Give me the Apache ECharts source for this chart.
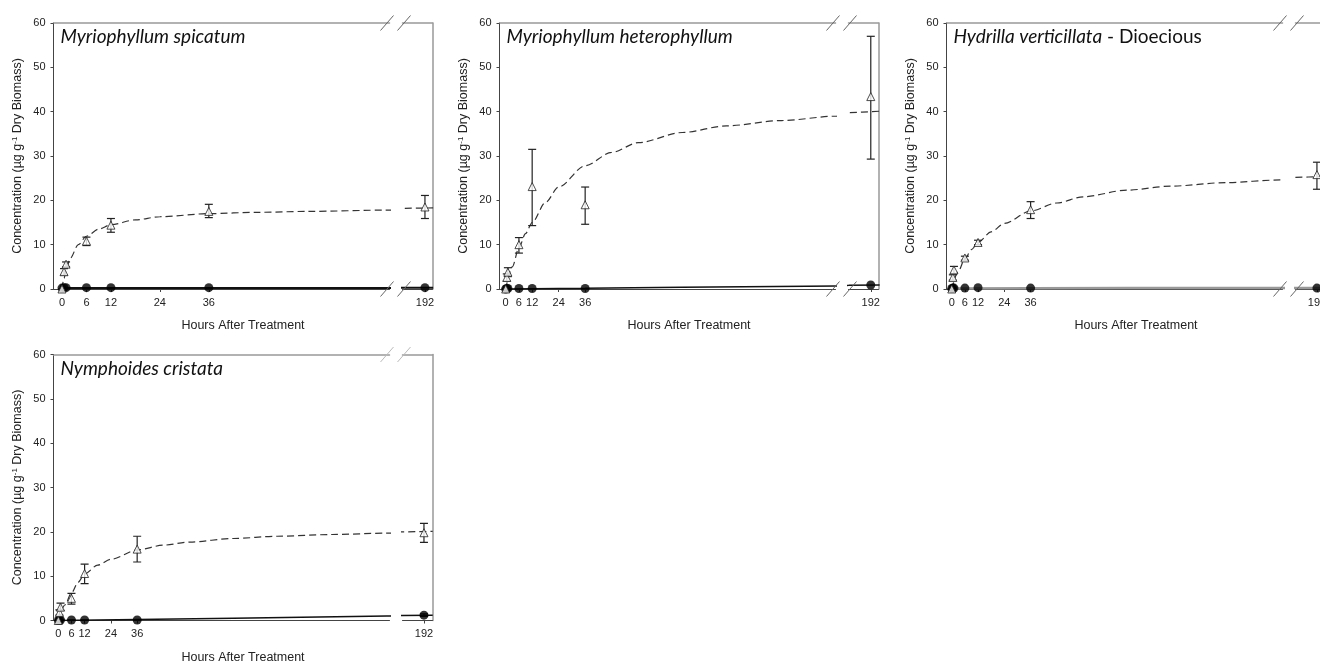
<!DOCTYPE html>
<html>
<head>
<meta charset="utf-8">
<script src="https://cdn.jsdelivr.net/npm/echarts@6/dist/echarts.min.js"></script>
<style>
  html, body { margin: 0; padding: 0; background: #fff; }
  #chart { width: 1320px; height: 664px; }
</style>
</head>
<body>
<div id="chart"></div>
<script>
// sampling times (hours after treatment)
const sampleHours = [0, 0.5, 1, 6, 12, 36, 192];
const leftTickHours = [0, 6, 12, 24, 36];
const rightTickHours = [192];

const fitHours = [0, 3, 6, 9, 12, 18, 24, 36, 48, 60, 80, 100, 125, 150, 182, 196];
const dotFitHours = [0, 36, 80, 150, 182, 196];

// Myriophyllum spicatum
const spicatumTri = [0, 3.9, 5.6, 10.8, 14.4, 17.5, 18.5];
const spicatumTriLow = [0, 3.1, 5.0, 9.8, 12.8, 16.1, 15.9];
const spicatumTriHigh = [0, 4.6, 6.1, 11.7, 15.9, 19.1, 21.1];
const spicatumDot = [0.2, 0.3, 0.3, 0.3, 0.3, 0.3, 0.3];
const spicatumFitHours = [0, 0.5, 1, 2, 4, 6, 9, 12, 18, 24, 36, 48, 60, 80, 186, 194];
const spicatumFit = [0, 2.4, 4.2, 6.9, 10.0, 11.9, 13.5, 14.5, 15.6, 16.3, 17.0, 17.3, 17.5, 17.8, 18.2, 18.3];
const spicatumDotFitHours = [0, 36, 80, 186, 194];
const spicatumDotFit = [0.2, 0.25, 0.25, 0.3, 0.3];

// Myriophyllum heterophyllum
const heteroTri = [0, 2.6, 3.8, 10.0, 23.1, 19.0, 43.4];
const heteroTriLow = [0, 1.8, 2.8, 8.1, 14.3, 14.6, 29.3];
const heteroTriHigh = [0, 3.4, 4.8, 11.6, 31.5, 23.0, 57.0];
const heteroDot = [0, 0.1, 0.1, 0.1, 0.1, 0.1, 0.9];
const heteroFit = [0, 5.0, 9.3, 12.5, 15.0, 19.5, 23.0, 27.8, 30.8, 33.0, 35.3, 36.8, 38.0, 39.0, 39.8, 40.1];
const heteroDotFit = [0, 0.15, 0.4, 0.7, 0.82, 0.9];

// Hydrilla verticillata - Dioecious
const hydrillaTri = [0, 2.6, 4.3, 7.0, 10.5, 17.9, 25.8];
const hydrillaTriLow = [0, 2.0, 3.5, 6.5, 10.0, 15.9, 22.5];
const hydrillaTriHigh = [0, 3.2, 5.1, 7.4, 11.0, 19.7, 28.6];
const hydrillaDot = [0.1, 0.2, 0.2, 0.2, 0.3, 0.2, 0.2];
const hydrillaFit = [0, 4.0, 6.8, 8.9, 10.5, 12.9, 14.8, 17.6, 19.4, 20.8, 22.3, 23.2, 24.0, 24.6, 25.2, 25.4];
const hydrillaDotFit = [0.1, 0.15, 0.2, 0.2, 0.2, 0.2];

// Nymphoides cristata
const nymphTri = [0, 1.8, 3.0, 5.0, 10.6, 16.1, 19.8];
const nymphTriLow = [0, 1.2, 2.3, 3.7, 8.3, 13.2, 17.6];
const nymphTriHigh = [0, 2.4, 3.9, 6.1, 12.7, 19.0, 21.9];
const nymphDot = [0, 0.1, 0.1, 0.1, 0.1, 0.1, 1.2];
const nymphDotLow = [0, 0.1, 0.1, 0.1, 0.1, 0.1, 0.9];
const nymphDotHigh = [0, 0.1, 0.1, 0.1, 0.1, 0.1, 1.5];
const nymphFit = [0, 3.5, 6.2, 8.6, 10.5, 12.5, 13.8, 15.9, 17.0, 17.7, 18.5, 19.0, 19.4, 19.7, 20.0, 20.1];
const nymphDotFit = [0, 0.2, 0.5, 1.0, 1.15, 1.2];

const panels = [
  { title: '{i|Myriophyllum spicatum}', tri: spicatumTri, lo: spicatumTriLow, hi: spicatumTriHigh,
    dot: spicatumDot, fitX: spicatumFitHours, fit: spicatumFit, dotFitX: spicatumDotFitHours, dotFit: spicatumDotFit,
    dotLine: { color: '#111', width: 2 } },
  { title: '{i|Myriophyllum heterophyllum}', tri: heteroTri, lo: heteroTriLow, hi: heteroTriHigh,
    dot: heteroDot, fitX: fitHours, fit: heteroFit, dotFitX: dotFitHours, dotFit: heteroDotFit,
    dotLine: { color: '#111', width: 1.5 } },
  { title: '{i|Hydrilla verticillata}{n| - Dioecious}', tri: hydrillaTri, lo: hydrillaTriLow, hi: hydrillaTriHigh,
    dot: hydrillaDot, fitX: fitHours, fit: hydrillaFit, dotFitX: dotFitHours, dotFit: hydrillaDotFit,
    dotLine: { color: '#999', width: 2.5 } },
  { title: '{i|Nymphoides cristata}', tri: nymphTri, lo: nymphTriLow, hi: nymphTriHigh,
    dot: nymphDot, dotLo: nymphDotLow, dotHi: nymphDotHigh, fitX: fitHours, fit: nymphFit,
    dotFitX: dotFitHours, dotFit: nymphDotFit, dotLine: { color: '#111', width: 1.5 } },
]

// layout of each panel: y-axis x, plot top, left / right segment ranges
const LEFT_W = 336, GAP = 13, RIGHT_W = 30, PLOT_H = 266
const layout = [
  { x: 53.5, top: 23, left: [-2.08, 80.3], right: [186.5, 193.85], rightW: RIGHT_W, frame: true, bottomSlash: true, slashColor: '#666' },
  { x: 499.5, top: 23, left: [-2.8, 149.4], right: [181.9, 195.5], rightW: RIGHT_W, frame: true, bottomSlash: true, slashColor: '#666' },
  // the original figure is cut off at the right edge here
  { x: 946.5, top: 23, left: [-2.4, 151.0], right: [182.2, 193.4], rightW: 24.5, frame: false, bottomSlash: true, slashColor: '#666' },
  { x: 53.5, top: 354.5, left: [-2.2, 151.2], right: [182.2, 195.9], rightW: RIGHT_W, frame: true, bottomSlash: false, slashColor: '#bbb' },
]
const FONT = 'Liberation Sans, Arial, sans-serif'
const AXIS_COLOR = '#444', FRAME_COLOR = '#999'

const zip = (xs, ys) => xs.map((x, i) => [x, ys[i]])

const errorBars = (color) => ({
  type: 'custom',
  clip: true,
  z: 3,
  renderItem: (params, api) => {
    const x = api.value(0)
    const a = api.coord([x, api.value(1)])
    const b = api.coord([x, api.value(2)])
    const w = 4
    const style = { stroke: color, lineWidth: 1.2, fill: null }
    return {
      type: 'group',
      children: [
        { type: 'line', shape: { x1: a[0], y1: a[1], x2: b[0], y2: b[1] }, style },
        { type: 'line', shape: { x1: a[0] - w, y1: a[1], x2: a[0] + w, y2: a[1] }, style },
        { type: 'line', shape: { x1: b[0] - w, y1: b[1], x2: b[0] + w, y2: b[1] }, style },
      ],
    }
  },
})

const grids = [], xAxes = [], topAxes = [], yAxes = [], series = [], graphics = []

panels.forEach((p, i) => {
  const L = layout[i]
  const segs = [
    { left: L.x, width: LEFT_W, range: L.left, ticks: leftTickHours, first: true },
    { left: L.x + LEFT_W + GAP, width: L.rightW, range: L.right, ticks: rightTickHours, first: false },
  ]
  segs.forEach((s) => {
    const g = grids.length
    const [lo, hi] = s.range
    const inRange = (d) => d[0] >= lo && d[0] <= hi
    grids.push({ left: s.left, top: L.top, width: s.width, height: PLOT_H, outerBoundsMode: 'none', containLabel: false })
    xAxes.push({
      gridIndex: g, type: 'value', min: lo, max: hi, position: 'bottom',
      axisLine: { onZero: false, lineStyle: { color: AXIS_COLOR, width: 1 } },
      axisTick: { customValues: s.ticks, length: 3, lineStyle: { color: AXIS_COLOR } },
      axisLabel: { customValues: s.ticks, fontSize: 11, color: '#222', margin: 8, fontFamily: FONT },
      splitLine: { show: false },
    })
    topAxes.push({
      gridIndex: g, type: 'value', min: lo, max: hi, position: 'top',
      axisLine: { onZero: false, lineStyle: { color: FRAME_COLOR, width: 1.5 } },
      axisTick: { show: false }, axisLabel: { show: false }, splitLine: { show: false },
    })
    if (s.first) {
      yAxes.push({
        gridIndex: g, type: 'value', min: 0, max: 60, interval: 10, position: 'left',
        axisLine: { show: true, onZero: false, lineStyle: { color: AXIS_COLOR, width: 1 } },
        axisTick: { show: true, length: 3, lineStyle: { color: AXIS_COLOR } },
        axisLabel: { fontSize: 11, color: '#222', margin: 8, fontFamily: FONT },
        splitLine: { show: false },
        name: '{a|Concentration (µg g}{s|-1}{a| Dry Biomass)}',
        nameLocation: 'middle', nameGap: 28,
        nameTextStyle: {
          rich: {
            a: { fontSize: 12.5, color: '#222', fontFamily: FONT, lineHeight: 15 },
            s: { fontSize: 8, color: '#222', fontFamily: FONT, verticalAlign: 'top', lineHeight: 15 },
          },
        },
      })
    } else {
      yAxes.push({
        gridIndex: g, type: 'value', min: 0, max: 60, interval: 10, position: 'right',
        axisLine: { show: L.frame, onZero: false, lineStyle: { color: FRAME_COLOR, width: 1.5 } },
        axisTick: { show: false }, axisLabel: { show: false }, splitLine: { show: false },
      })
    }

    const base = { xAxisIndex: g, yAxisIndex: g, animation: false, silent: true }
    series.push({
      ...base, type: 'line', data: zip(p.dotFitX, p.dotFit), symbol: 'none', clip: true, z: 2,
      lineStyle: { color: p.dotLine.color, width: p.dotLine.width },
    })
    series.push({
      ...base, type: 'line', data: zip(p.fitX, p.fit), symbol: 'none', clip: true, z: 2,
      smooth: 0.3, smoothMonotone: 'x',
      lineStyle: { color: '#333', width: 1.2, type: [7, 4] },
    })
    series.push({
      ...base, ...errorBars('#222'),
      data: sampleHours.map((t, j) => [t, p.lo[j], p.hi[j]]).filter(inRange),
    })
    if (p.dotLo) {
      series.push({
        ...base, ...errorBars('#111'),
        data: sampleHours.map((t, j) => [t, p.dotLo[j], p.dotHi[j]]).filter(inRange),
      })
    }
    series.push({
      ...base, type: 'scatter', data: zip(sampleHours, p.dot).filter(inRange), clip: true, z: 4,
      symbol: 'circle', symbolSize: 9, itemStyle: { color: '#000' },
    })
    series.push({
      ...base, type: 'scatter', data: zip(sampleHours, p.tri).filter(inRange), clip: true, z: 5,
      symbol: 'triangle', symbolSize: 8,
      itemStyle: { color: '#fff', borderColor: '#222', borderWidth: 1 },
    })
  })

  // axis break marks
  const c1 = L.x + LEFT_W - 2.5
  const c2 = L.x + LEFT_W + GAP + 1.5
  const ys = L.bottomSlash ? [L.top, L.top + PLOT_H] : [L.top]
  ys.forEach((cy) => {
    [c1, c2].forEach((cx) => {
      graphics.push({
        type: 'line', silent: true, z: 10,
        shape: { x1: cx - 6.5, y1: cy + 7.5, x2: cx + 6.5, y2: cy - 7.5 },
        style: { stroke: L.slashColor, lineWidth: 1 },
      })
    })
  })

  // panel title and x axis name
  graphics.push({
    type: 'text', silent: true, z: 10, x: L.x + 7, y: L.top + 14,
    style: {
      text: p.title, verticalAlign: 'middle', align: 'left',
      rich: {
        i: { fontFamily: 'Lato, sans-serif', fontStyle: 'italic', fontSize: 19, fill: '#111' },
        n: { fontFamily: 'Lato, sans-serif', fontSize: 19, fill: '#111' },
      },
    },
  })
  graphics.push({
    type: 'text', silent: true, z: 10, x: L.x + (LEFT_W + GAP + RIGHT_W) / 2, y: L.top + 303,
    style: {
      text: 'Hours After Treatment', align: 'center', verticalAlign: 'middle',
      fontFamily: FONT, fontSize: 12.5, fill: '#222',
    },
  })
})

const chart = echarts.init(document.getElementById('chart'), null, { renderer: 'canvas' })
chart.setOption({
  animation: false,
  backgroundColor: '#fff',
  grid: grids,
  xAxis: xAxes.concat(topAxes),
  yAxis: yAxes,
  series: series,
  graphic: graphics,
})
</script>
</body>
</html>
